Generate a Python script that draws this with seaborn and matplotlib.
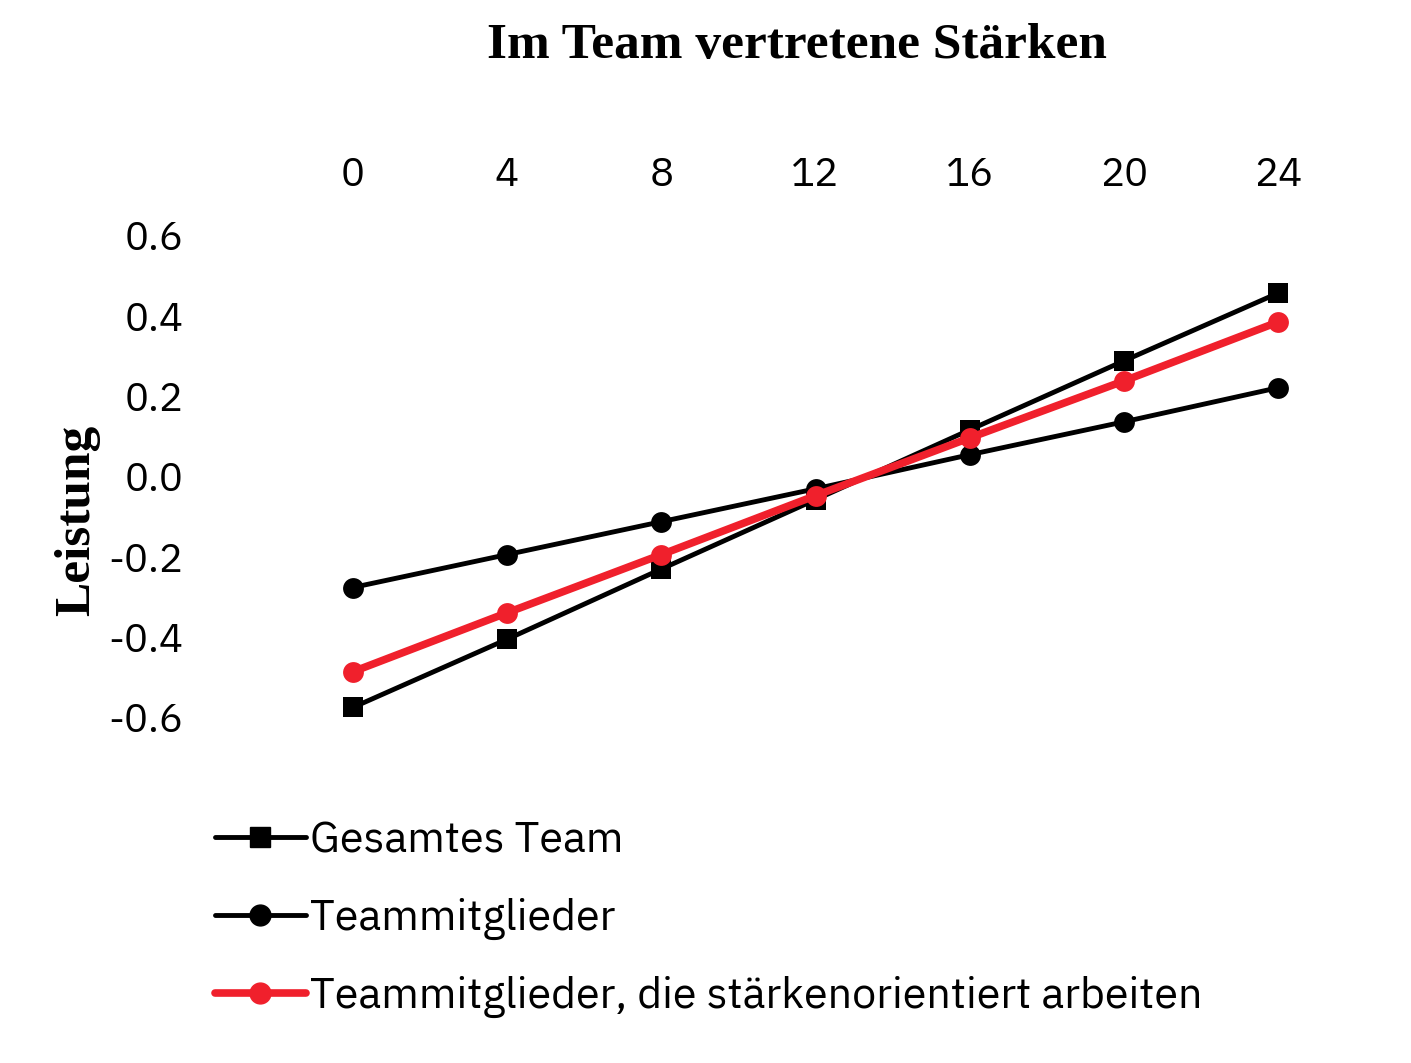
import matplotlib
matplotlib.use("Agg")
import matplotlib.pyplot as plt
import seaborn as sns
import pandas as pd
from matplotlib.lines import Line2D

x = [0, 4, 8, 12, 16, 20, 24]
gesamt = [-0.575, -0.405, -0.23, -0.057, 0.117, 0.289, 0.458]
mitglieder = [-0.276, -0.194, -0.112, -0.03, 0.055, 0.137, 0.222]
staerken = [-0.486, -0.339, -0.194, -0.047, 0.097, 0.239, 0.386]
labels = ["Gesamtes Team", "Teammitglieder", "Teammitglieder, die stärkenorientiert arbeiten"]

sns.set_style("white")
plt.rcParams['font.family'] = ['IBM Plex Sans', 'Noto Sans', 'DejaVu Sans']
plt.rcParams['text.color'] = 'black'

fig = plt.figure(figsize=(14.11, 10.63), dpi=100)
ax = fig.add_axes([0.250, 0.325, 0.656, 0.453])

df = pd.DataFrame({"x": x * 3, "y": gesamt + mitglieder + staerken,
                   "s": [labels[0]] * 7 + [labels[1]] * 7 + [labels[2]] * 7})
sns.lineplot(data=df, x="x", y="y", hue="s", style="s",
             palette=["black", "black", "#f0202c"],
             markers=["s", "o", "o"], dashes=False, ax=ax, legend=False,
             markersize=15, markeredgewidth=0)
for line, lw in zip(ax.lines, [3.5, 3.5, 5.5]):
    line.set_linewidth(lw)
    line.set_clip_on(False)

ax.set_xlim(0, 24)
ax.set_ylim(-0.6, 0.6)
ax.set_xticks(x)
ax.set_yticks([-0.6, -0.4, -0.2, 0.0, 0.2, 0.4, 0.6])
ax.set_yticklabels(["-0.6", "-0.4", "-0.2", "0.0", "0.2", "0.4", "0.6"])
ax.xaxis.tick_top()
ax.tick_params(axis="both", labelsize=29, length=0, labelcolor="black")
ax.tick_params(axis="x", pad=30)
ax.tick_params(axis="y", pad=122)
sns.despine(ax=ax, left=True, bottom=True)
ax.set_xlabel("")
ax.set_ylabel("")
fig.text(0.565, 0.957, "Im Team vertretene Stärken", ha="center", va="center",
         fontsize=37, fontweight="bold", family="Liberation Serif")
fig.text(0.055, 0.51, "Leistung", rotation=90, ha="center", va="center",
         fontsize=37, fontweight="bold", family="Liberation Serif")

handles = [Line2D([], [], color="black", lw=3.5, marker="s", markersize=15),
           Line2D([], [], color="black", lw=3.5, marker="o", markersize=15),
           Line2D([], [], color="#f0202c", lw=5.5, marker="o", markersize=15)]
fig.legend(handles, labels, loc="upper left", bbox_to_anchor=(0.125, 0.265),
           frameon=False, fontsize=31, handlelength=2.1, handletextpad=0.1,
           labelspacing=0.85)
fig.savefig("out.png", dpi=100)
